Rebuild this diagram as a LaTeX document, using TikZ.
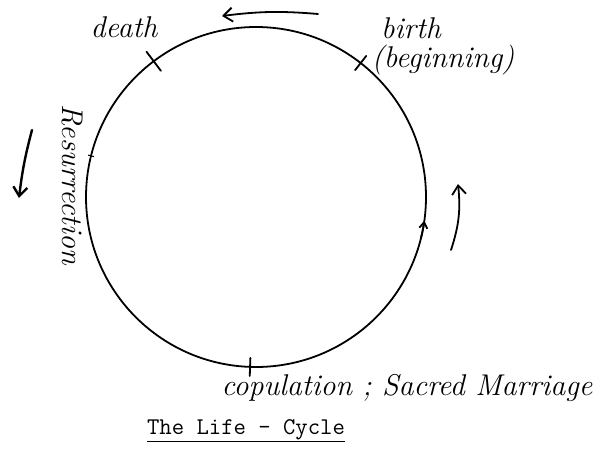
\documentclass[tikz,border=0pt]{standalone}
\usepackage{tikz}
\usetikzlibrary{arrows.meta}

\begin{document}
\begin{tikzpicture}[x=1pt,y=1pt,
  pen/.style={line width=1.8pt,line cap=round},
  hand/.style={font=\fontsize{30}{30}\selectfont\itshape,inner sep=0pt},
  barb/.style={pen,-{Straight Barb[length=9pt,width=14pt]}}]
\useasboundingbox (0,0) rectangle (599,448);
\coordinate (c) at (256,251);
\draw[pen] (c) circle[radius=170pt];
% marks on the circle
\coordinate (death) at ([shift={(127:170pt)}]c);
\coordinate (birth) at ([shift={(52:170pt)}]c);
\coordinate (cop) at ([shift={(268:170pt)}]c);
\coordinate (res) at ([shift={(166:170pt)}]c);
\draw[pen] ([shift={(127:-12pt)}]death) -- ([shift={(127:12pt)}]death);
\draw[pen] ([shift={(52:-9pt)}]birth) -- ([shift={(52:9pt)}]birth);
\draw[pen] ([shift={(268:-9pt)}]cop) -- ([shift={(268:9pt)}]cop);
\draw[line width=1pt] ([shift={(166:-3pt)}]res) -- ([shift={(166:3pt)}]res);
\draw[pen,-{Straight Barb[length=6pt,width=8pt]}] ([shift={(-14:170pt)}]c) arc[start angle=-14,end angle=-8,radius=170pt];
% direction arrows
\coordinate (t1) at (318,434);
\coordinate (t2) at (222,432);
\draw[barb] (t1) to[bend right=6] (t2);
\coordinate (l1) at (32,318);
\coordinate (l2) at (19,250);
\draw[barb,line width=2.4pt] (l1) to[bend right=4] (l2);
\coordinate (r1) at (451,198);
\coordinate (r2) at (458,264);
\draw[barb] (r1) to[bend right=12] (r2);
% labels
\node[hand] (deathlbl) at (124,421) {death};
\node[hand] (birthlbl) at (411,420) {birth};
\node[hand] (beginlbl) at (443,388) {(beginning)};
\node[hand,rotate=-90] (reslbl) at (72,263) {Resurrection};
\node[hand] (coplbl) at (407,60) {copulation ; Sacred Marriage};
\node[font=\fontsize{24}{24}\selectfont\ttfamily,inner sep=0pt] (title) at (246,17) {\underline{The Life - Cycle}};
\end{tikzpicture}
\end{document}
